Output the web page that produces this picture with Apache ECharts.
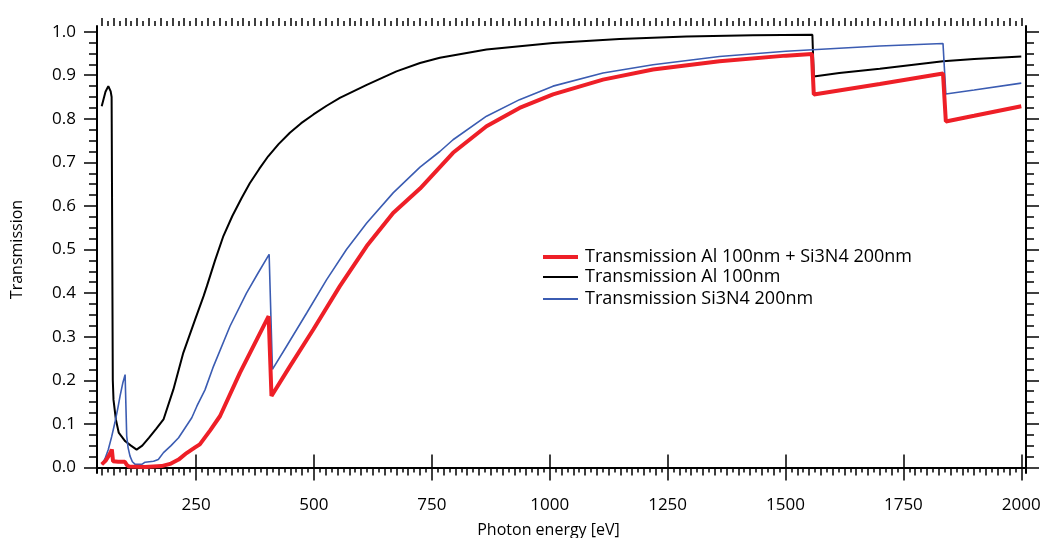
<!DOCTYPE html>
<html>
<head>
<meta charset="utf-8">
<script src="https://cdn.jsdelivr.net/npm/echarts@6/dist/echarts.min.js"></script>
<style>
  html, body { margin: 0; padding: 0; background: #fff; }
  #chart { width: 1045px; height: 538px; }
</style>
</head>
<body>
<div id="chart"></div>
<script>
// transmission Al 100nm (black)
var alE = [50, 58, 64, 69, 71, 73.5, 75, 80, 86, 100, 112, 124, 136, 150, 165, 181, 202, 223, 248, 266, 273, 290, 308, 327, 347, 364, 384, 403, 425, 449, 473, 499, 527, 555, 612, 675, 725, 767, 866, 1007, 1148, 1290, 1431, 1557, 1560, 1614, 1700, 1834, 1900, 2000];
var alT = [0.829, 0.862, 0.875, 0.863, 0.85, 0.2, 0.155, 0.11, 0.08, 0.06, 0.05, 0.041, 0.05, 0.068, 0.088, 0.11, 0.179, 0.263, 0.339, 0.393, 0.416, 0.474, 0.531, 0.577, 0.619, 0.652, 0.685, 0.714, 0.742, 0.768, 0.79, 0.81, 0.83, 0.848, 0.878, 0.909, 0.928, 0.94, 0.959, 0.974, 0.983, 0.989, 0.992, 0.993, 0.897, 0.905, 0.915, 0.932, 0.937, 0.943];

// transmission Si3N4 200nm (blue)
var sinE = [50, 57, 64, 71, 78, 84, 89, 95, 99.6, 103, 106, 110, 115, 121, 135, 142, 160, 170, 181, 197, 213, 241, 252, 269, 287, 322, 357, 381, 405, 412, 442, 485, 527, 569, 612, 668, 725, 767, 795, 866, 936, 1007, 1113, 1219, 1360, 1501, 1614, 1700, 1834, 1840, 1900, 2000];
var sinT = [0.007, 0.02, 0.041, 0.07, 0.103, 0.135, 0.164, 0.195, 0.213, 0.072, 0.045, 0.026, 0.013, 0.007, 0.007, 0.012, 0.014, 0.018, 0.034, 0.05, 0.068, 0.114, 0.141, 0.178, 0.232, 0.324, 0.4, 0.445, 0.489, 0.225, 0.278, 0.355, 0.431, 0.5, 0.561, 0.63, 0.689, 0.725, 0.752, 0.806, 0.844, 0.875, 0.905, 0.924, 0.943, 0.955, 0.962, 0.967, 0.973, 0.857, 0.866, 0.882];

// transmission Al 100nm + Si3N4 200nm (red)
var combE = [50, 58, 64, 69, 71.5, 74, 85, 99, 103, 108, 142, 177, 195, 213, 230, 248, 258, 280, 301, 343, 379, 404, 410, 449, 499, 555, 612, 668, 725, 795, 866, 936, 1007, 1113, 1219, 1360, 1501, 1556, 1560, 1700, 1834, 1840, 1900, 2000];
var combT = [0.007, 0.015, 0.025, 0.035, 0.041, 0.014, 0.013, 0.013, 0.006, 0.002, 0.001, 0.003, 0.008, 0.018, 0.033, 0.046, 0.053, 0.085, 0.118, 0.217, 0.294, 0.347, 0.164, 0.232, 0.317, 0.416, 0.508, 0.584, 0.64, 0.722, 0.783, 0.825, 0.856, 0.89, 0.913, 0.932, 0.945, 0.949, 0.856, 0.88, 0.904, 0.794, 0.807, 0.829];

var seriesNames = ['Transmission Al 100nm + Si3N4 200nm', 'Transmission Al 100nm', 'Transmission Si3N4 200nm'];

// tick labels
var xLabels = [250, 500, 750, 1000, 1250, 1500, 1750, 2000];
var yLabels = [0, 0.1, 0.2, 0.3, 0.4, 0.5, 0.6, 0.7, 0.8, 0.9, 1.0];

var xMid = [], xMinor = [], yMinor = [];
for (var i = 0; i <= 78; i++) xMid.push(50 + i * 25);
for (var i = 0; i <= 156; i++) xMinor.push(50 + i * 12.5);
for (var i = 0; i <= 40; i++) yMinor.push(Math.round(i * 25) / 1000);

function pairs(xs, ys) {
    return xs.map(function (x, k) { return [x, ys[k]]; });
}

var chart = echarts.init(document.getElementById('chart'));

var font = 'Open Sans';
var XMIN = 40, XMAX = 2010, YMIN = -0.0128, YMAX = 1.013;

function xAx(pos, ticks, len, labels, line) {
    var a = {
        type: 'value', position: pos, min: XMIN, max: XMAX,
        axisLine: {show: !!line, lineStyle: {color: '#000', width: 2}},
        axisTick: {show: true, inside: false, length: len, customValues: ticks, lineStyle: {color: '#000', width: 1.5}},
        axisLabel: {show: false},
        splitLine: {show: false}
    };
    if (labels) {
        a.axisLabel = {show: true, customValues: labels, margin: 24, color: '#000', fontSize: 17, fontFamily: font,
            formatter: function (v) { return String(v); }};
        a.name = 'Photon energy [eV]';
        a.nameLocation = 'middle';
        a.nameGap = 49;
        a.nameTextStyle = {color: '#000', fontSize: 16, fontFamily: font, padding: [0, 26, 0, 0]};
    }
    return a;
}

function yAx(pos, ticks, len, labels, line) {
    var a = {
        type: 'value', position: pos, min: YMIN, max: YMAX,
        axisLine: {show: !!line, lineStyle: {color: '#000', width: 2}},
        axisTick: {show: true, inside: false, length: len, customValues: ticks, lineStyle: {color: '#000', width: 1.5}},
        axisLabel: {show: false},
        splitLine: {show: false}
    };
    if (labels) {
        a.axisLabel = {show: true, customValues: labels, margin: 21, color: '#000', fontSize: 17, fontFamily: font,
            formatter: function (v) { return v.toFixed(1); }};
        a.name = 'Transmission';
        a.nameLocation = 'middle';
        a.nameGap = 72;
        a.nameTextStyle = {color: '#000', fontSize: 16, fontFamily: font};
    }
    return a;
}

function legendRow(name, top, h) {
    return {
        data: [name], left: 543, top: top, icon: 'rect', padding: 0,
        itemWidth: 35, itemHeight: h, itemGap: 0,
        selectedMode: false,
        textStyle: {color: '#000', fontSize: 18, fontFamily: font, padding: [0, 0, 0, 2]}
    };
}

function line(name, xs, ys, col, w, z) {
    return {
        name: name, type: 'line', data: pairs(xs, ys),
        showSymbol: false, symbol: 'none', z: z,
        color: col, lineStyle: {color: col, width: w}
    };
}

var option = {
    animation: false,
    backgroundColor: '#fff',
    grid: {left: 97, right: 19, top: 26, bottom: 65, outerBoundsMode: 'none'},
    legend: [
        legendRow(seriesNames[0], 248, 4),
        legendRow(seriesNames[1], 268, 2),
        legendRow(seriesNames[2], 290, 2)
    ],
    xAxis: [
        xAx('bottom', xLabels, 13, xLabels, true),
        xAx('bottom', xMid, 8),
        xAx('bottom', xMinor, 5),
        xAx('top', xLabels, 13, null, true),
        xAx('top', xMid, 8),
        xAx('top', xMinor, 5)
    ],
    yAxis: [
        yAx('left', yLabels, 13, yLabels, true),
        yAx('left', yMinor, 8),
        yAx('right', yLabels, 13, null, true),
        yAx('right', yMinor, 8)
    ],
    series: [
        line(seriesNames[1], alE, alT, '#000', 2, 2),
        line(seriesNames[2], sinE, sinT, '#3b5cb2', 1.6, 3),
        line(seriesNames[0], combE, combT, '#ee1f27', 4, 4)
    ]
};

chart.setOption(option);
</script>
</body>
</html>
